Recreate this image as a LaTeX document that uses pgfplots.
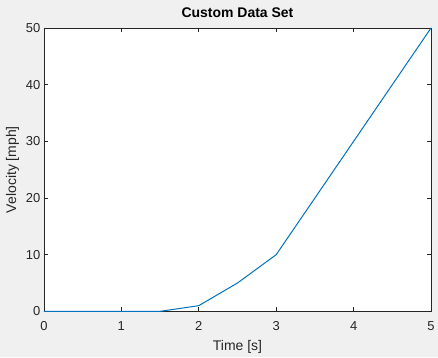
\documentclass[border=0pt]{standalone}
\usepackage{pgfplots}
\pgfplotsset{compat=1.18}
\usepackage{fontspec}
\setmainfont{Liberation Sans}
\definecolor{mblue}{rgb}{0,0.447,0.741}
\definecolor{mgray}{rgb}{0.15,0.15,0.15}
\definecolor{bg}{RGB}{240,240,240}
\pagecolor{bg}
\begin{document}
\begin{tikzpicture}
\path (0,0) rectangle (438bp,354bp);
\begin{axis}[
  set layers, clip=false,
  at={(44bp,42bp)}, anchor=south west,
  width=388bp, height=284bp, scale only axis,
  xmin=0, xmax=5, ymin=0, ymax=50,
  xtick={0,1,2,3,4,5}, ytick={0,10,20,30,40,50},
  tick align=inside, tick pos=both,
  major tick length=4bp,
  axis line style={mgray, line width=0.7bp},
  tick style={mgray, line width=0.7bp},
  axis background/.style={fill=white},
  ticklabel style={font=\fontsize{13bp}{15bp}\selectfont, text=mgray},
  xticklabel style={yshift=-7bp},
  /pgf/number format/assume math mode=true,
  xlabel={Time [s]}, ylabel={Velocity [mph]},
  label style={font=\fontsize{14bp}{16bp}\selectfont, text=mgray},
  title={\textbf{Custom Data Set}},
  title style={font=\fontsize{14bp}{16bp}\selectfont, yshift=1bp},
  xlabel style={yshift=-3bp},
  ylabel style={yshift=0bp},
]
\addplot[mblue, line width=1bp, on layer=axis foreground] coordinates {
(0,0) (0.5,0) (1,0) (1.5,0) (2,1) (2.5,5) (3,10) (3.5,20) (4,30) (4.5,40) (5,50)
};
\end{axis}
\end{tikzpicture}
\end{document}
